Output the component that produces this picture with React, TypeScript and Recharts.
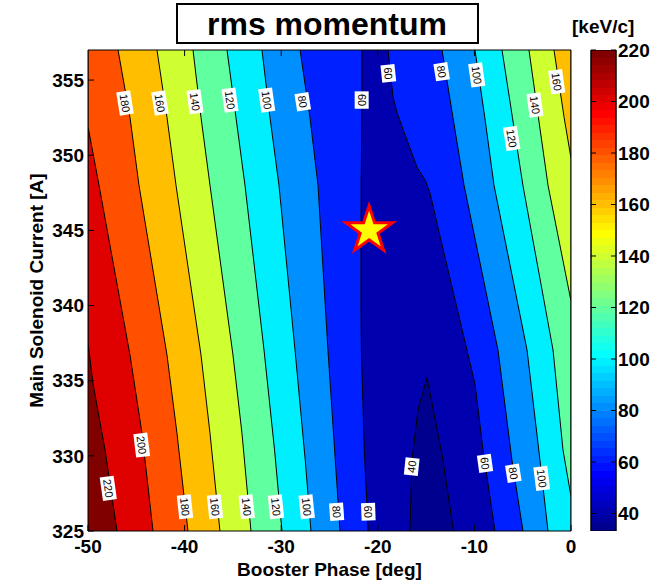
import React from "react";
import { Area, Bar, ComposedChart, Scatter, XAxis, YAxis } from "recharts";

// axes
const phaseTicks = [-50, -40, -30, -20, -10, 0];
const phaseInnerTicks = [-40, -30, -20, -10];
const currentTicks = [325, 330, 335, 340, 345, 350, 355];
const currentInnerTicks = [330, 335, 340, 345, 350, 355];
const colorTicks = [40, 60, 80, 100, 120, 140, 160, 180, 200, 220];
const colorRange = [33.2, 220];

// contour levels: y = solenoid current, r = [left, right] booster phase of the region below the level
const lvMax = [
  { y: 325, r: [-50, 0] },
  { y: 357, r: [-50, 0] },
];
const lv220 = [
  { y: 325, r: [-47.0, 0] },
  { y: 330.4, r: [-48.24, 0] },
  { y: 334.8, r: [-49.48, 0] },
  { y: 337.5, r: [-50, 0] },
  { y: 357, r: [-50, 0] },
];
const lv200 = [
  { y: 325, r: [-43.27, 0] },
  { y: 331.5, r: [-44.41, 0] },
  { y: 336.7, r: [-45.65, 0] },
  { y: 348.35, r: [-48.96, 0] },
  { y: 351.9, r: [-50, 0] },
  { y: 357, r: [-50, 0] },
];
const lv180 = [
  { y: 325, r: [-39.65, 0] },
  { y: 331.5, r: [-40.79, 0] },
  { y: 336.7, r: [-41.82, 0] },
  { y: 348, r: [-44.72, 0] },
  { y: 352.5, r: [-45.65, 0] },
  { y: 357, r: [-46.89, 0] },
];
const lv160 = [
  { y: 325, r: [-36.34, 0] },
  { y: 331.5, r: [-37.37, 0] },
  { y: 336.7, r: [-38.3, 0] },
  { y: 348, r: [-40.89, 0] },
  { y: 349.8, r: [-41.26, 0] },
  { y: 352.5, r: [-41.82, -0.71] },
  { y: 357, r: [-42.86, -1.76] },
];
const lv140 = [
  { y: 325, r: [-33.13, 0] },
  { y: 331.5, r: [-34.06, 0] },
  { y: 336.7, r: [-34.99, 0] },
  { y: 340.3, r: [-35.75, 0] },
  { y: 348, r: [-37.37, -2.38] },
  { y: 352.5, r: [-38.3, -3.37] },
  { y: 357, r: [-39.13, -4.35] },
];
const lv120 = [
  { y: 325, r: [-29.92, 0] },
  { y: 327.3, r: [-30.25, 0] },
  { y: 330.4, r: [-30.69, -0.83] },
  { y: 337.04, r: [-31.78, -1.86] },
  { y: 348, r: [-33.75, -4.98] },
  { y: 352.5, r: [-34.68, -6.06] },
  { y: 357, r: [-35.61, -7.14] },
];
const lv100 = [
  { y: 325, r: [-26.92, -2.38] },
  { y: 329.7, r: [-27.51, -3.21] },
  { y: 337.04, r: [-28.57, -4.55] },
  { y: 348, r: [-30.23, -7.97] },
  { y: 352.5, r: [-31.16, -8.92] },
  { y: 357, r: [-31.99, -9.94] },
];
const lv80 = [
  { y: 325, r: [-23.91, -4.97] },
  { y: 329.7, r: [-24.4, -6.11] },
  { y: 337.04, r: [-25.16, -7.56] },
  { y: 348, r: [-26.19, -11.07] },
  { y: 352.5, r: [-27.02, -12.22] },
  { y: 357, r: [-28.05, -13.35] },
];
const lv60 = [
  { y: 325, r: [-21.0, -7.87] },
  { y: 330.4, r: [-21.4, -9.11] },
  { y: 334.8, r: [-21.6, -9.94] },
  { y: 337.04, r: [-21.7, -10.77] },
  { y: 340, r: [-21.74, -11.86] },
  { y: 345, r: [-21.74, -13.7] },
  { y: 347.5, r: [-21.72, -14.6] },
  { y: 348.35, r: [-21.72, -15.11] },
  { y: 349.2, r: [-21.7, -15.94] },
  { y: 352.8, r: [-21.66, -18.0] },
  { y: 353.9, r: [-21.64, -18.43] },
  { y: 357, r: [-21.64, -18.94] },
];
const lv40 = [
  { y: 325, r: [-16.67, -12.17] },
  { y: 329.7, r: [-16.46, -13.25] },
  { y: 333.05, r: [-15.84, -14.25] },
  { y: 334.2, r: [-15.34, -14.6] },
  { y: 335.2, r: [-14.9, -14.9] },
];

const levels = [lvMax, lv220, lv200, lv180, lv160, lv140, lv120, lv100, lv80, lv60, lv40];
const bandColors = [
  "#800000", "#df0000", "#ff5000", "#ffbf00", "#cfff30", "#60ff9f",
  "#00efff", "#008fff", "#0020ff", "#0000af", "#00008f",
];

const contourLabels = [
  { x: -46.17, y: 353.47, t: "180" },
  { x: -42.55, y: 353.47, t: "160" },
  { x: -38.92, y: 353.56, t: "140" },
  { x: -35.3, y: 353.67, t: "120" },
  { x: -31.5, y: 353.67, t: "100" },
  { x: -27.77, y: 353.56, t: "80" },
  { x: -21.67, y: 353.67, t: "60" },
  { x: -18.91, y: 355.45, t: "60" },
  { x: -13.39, y: 355.56, t: "80" },
  { x: -9.76, y: 355.34, t: "100" },
  { x: -6.14, y: 351.12, t: "120" },
  { x: -3.73, y: 353.34, t: "140" },
  { x: -1.48, y: 354.89, t: "160" },
  { x: -47.9, y: 327.84, t: "220" },
  { x: -44.44, y: 330.72, t: "200" },
  { x: -39.96, y: 326.61, t: "180" },
  { x: -36.85, y: 326.61, t: "160" },
  { x: -33.57, y: 326.61, t: "140" },
  { x: -30.54, y: 326.61, t: "120" },
  { x: -27.36, y: 326.61, t: "100" },
  { x: -24.26, y: 326.28, t: "80" },
  { x: -20.98, y: 326.28, t: "60" },
  { x: -16.49, y: 329.28, t: "40" },
  { x: -8.9, y: 329.5, t: "60" },
  { x: -5.97, y: 328.84, t: "80" },
  { x: -3.03, y: 328.5, t: "100" },
];
// text rotation for each label above (deg)
const labelTilt = [81, 81, 82, 82, 82, 81, 90, 84, 81, 82, 81, 82, 82,
  82, 83, 84, 84, 84, 84, 84, 86, 88, -84, 82, 81, 83];

const optimum = [{ x: -20.9, y: 345.0 }];
const colorbar = [{ name: "cb", r: colorRange }];

const FONT = "'Liberation Sans', Arial, Helvetica, sans-serif";
const tickStyle = { fill: "#000", fontSize: 19, fontWeight: "bold", fontFamily: FONT };

function jet64(i: number) {
  const c = (v: number) => Math.round(255 * Math.max(0, Math.min(1, v)));
  const r = c(Math.min((i - 23) / 16, (71 - i) / 16));
  const g = c(Math.min((i - 7) / 16, (55 - i) / 16));
  const b = c(Math.min((i + 9) / 16, (39 - i) / 16));
  return `rgb(${r},${g},${b})`;
}

const ContourLabel = (props: any) => {
  const { cx, cy, payload, index } = props;
  const w = payload.t.length * 6.2 + 5;
  return (
    <g transform={`translate(${cx},${cy}) rotate(${labelTilt[index] ?? 82})`}>
      <rect x={-w / 2} y={-7} width={w} height={14} fill="#fff" />
      <text x={0} y={4} textAnchor="middle" fontSize={11} fontFamily={FONT} fill="#000">
        {payload.t}
      </text>
    </g>
  );
};

const Star = (props: any) => {
  const { cx, cy } = props;
  const R = 24.5;
  const pts: string[] = [];
  for (let i = 0; i < 10; i++) {
    const rad = i % 2 === 0 ? R : R * 0.382;
    const ang = -Math.PI / 2 + (i * Math.PI) / 5;
    pts.push(`${cx + rad * Math.cos(ang)},${cy + rad * Math.sin(ang)}`);
  }
  return <polygon points={pts.join(" ")} fill="#ffff00" stroke="#ff0000" strokeWidth={3} />;
};

export default function App() {
  return (
    <div style={{ position: "relative", width: 666, height: 587, fontFamily: FONT, background: "#fff" }}>
      <style>{"body{margin:0}"}</style>

      <div style={{ position: "absolute", left: 0, top: 0 }}>
        <ComposedChart layout="vertical" width={666} height={587} margin={{ top: 40, right: 85, bottom: 0, left: 0 }}>
          {levels.map((lv, i) => (
            <Area
              key={i}
              data={lv}
              dataKey="r"
              type="linear"
              fill={bandColors[i]}
              fillOpacity={1}
              stroke={i === 0 ? "none" : "#000"}
              strokeWidth={1}
              dot={false}
              activeDot={false}
              isAnimationActive={false}
            />
          ))}
          <XAxis
            type="number"
            domain={[-50, 0]}
            ticks={phaseTicks}
            interval={0}
            allowDataOverflow
            height={56}
            tickSize={-6}
            tickMargin={15}
            tick={tickStyle}
            axisLine={{ stroke: "#000" }}
            tickLine={{ stroke: "#000" }}
            label={{ value: "Booster Phase [deg]", position: "insideBottom", offset: 11, fill: "#000", fontSize: 19, fontWeight: "bold", fontFamily: FONT }}
          />
          <XAxis
            xAxisId="top"
            orientation="top"
            type="number"
            domain={[-50, 0]}
            ticks={phaseInnerTicks}
            interval={0}
            allowDataOverflow
            height={10}
            tickSize={-6}
            tick={() => <g />}
            axisLine={{ stroke: "#000" }}
            tickLine={{ stroke: "#000" }}
          />
          <YAxis
            type="number"
            dataKey="y"
            reversed
            domain={[325, 357]}
            ticks={currentTicks}
            interval={0}
            allowDataOverflow
            width={88}
            tickSize={-6}
            tickMargin={10}
            tick={tickStyle}
            axisLine={{ stroke: "#000" }}
            tickLine={{ stroke: "#000" }}
            label={{ value: "Main Solenoid Current [A]", angle: -90, position: "insideLeft", offset: 36, fill: "#000", fontSize: 19, fontWeight: "bold", fontFamily: FONT, style: { textAnchor: "middle" } }}
          />
          <YAxis
            yAxisId="right"
            orientation="right"
            type="number"
            reversed
            domain={[325, 357]}
            ticks={currentInnerTicks}
            interval={0}
            allowDataOverflow
            width={10}
            tickSize={-6}
            tick={() => <g />}
            axisLine={{ stroke: "#000" }}
            tickLine={{ stroke: "#000" }}
          />
          <Scatter data={contourLabels} dataKey="x" shape={ContourLabel} isAnimationActive={false} />
          <Scatter data={optimum} dataKey="x" shape={Star} isAnimationActive={false} />
        </ComposedChart>
      </div>

      <div style={{ position: "absolute", left: 560, top: 0 }}>
        <ComposedChart width={106} height={587} data={colorbar} margin={{ top: 50, right: 0, bottom: 56, left: 30 }} barCategoryGap={0}>
          <defs>
            <linearGradient id="jetmap" x1="0" y1="1" x2="0" y2="0">
              {Array.from({ length: 64 }).flatMap((_, i) => [
                <stop key={`a${i}`} offset={i / 64} stopColor={jet64(i)} />,
                <stop key={`b${i}`} offset={(i + 1) / 64} stopColor={jet64(i)} />,
              ])}
            </linearGradient>
          </defs>
          <XAxis dataKey="name" hide />
          <YAxis
            yAxisId="l"
            orientation="left"
            type="number"
            domain={colorRange}
            ticks={colorTicks}
            interval={0}
            allowDataOverflow
            width={1}
            tickSize={-5}
            tick={() => <g />}
            axisLine={{ stroke: "#000" }}
            tickLine={{ stroke: "#000" }}
          />
          <YAxis
            yAxisId="r"
            orientation="right"
            type="number"
            domain={colorRange}
            ticks={colorTicks}
            interval={0}
            allowDataOverflow
            width={50}
            tickSize={-5}
            tickMargin={7}
            tick={tickStyle}
            axisLine={{ stroke: "#000" }}
            tickLine={{ stroke: "#000" }}
          />
          <Bar yAxisId="r" dataKey="r" fill="url(#jetmap)" stroke="#000" strokeWidth={1} isAnimationActive={false} />
        </ComposedChart>
      </div>

      <svg width={666} height={587} style={{ position: "absolute", left: 0, top: 0, pointerEvents: "none" }}>
        <rect x={177} y={4} width={301} height={39} fill="#fff" stroke="#000" strokeWidth={2} />
        <text x={327} y={35} textAnchor="middle" fontSize={32} fontWeight="bold" fontFamily={FONT} fill="#000">
          rms momentum
        </text>
        <text x={572} y={33} fontSize={19} fontWeight="bold" fontFamily={FONT} fill="#000">
          [keV/c]
        </text>
      </svg>
    </div>
  );
}
